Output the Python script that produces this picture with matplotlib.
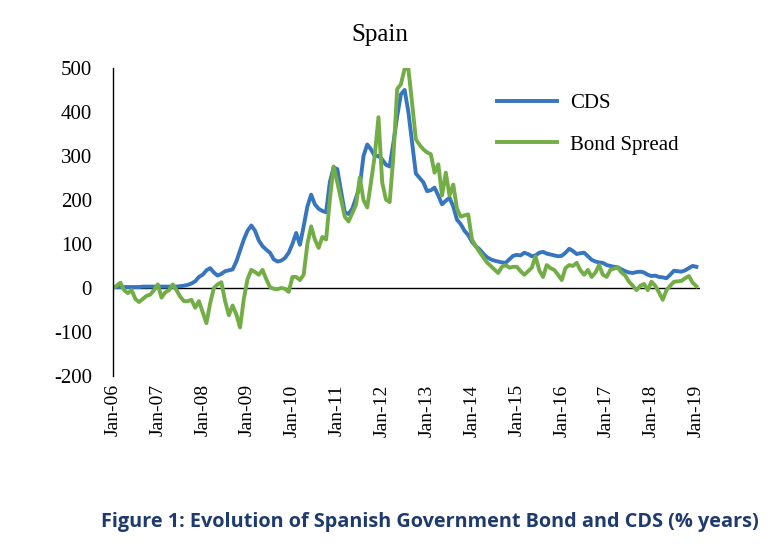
import numpy as np
import pandas as pd
import matplotlib
matplotlib.use("Agg")
import matplotlib.pyplot as plt

plt.rcParams["axes.unicode_minus"] = False

# Monthly observations, Jan-2006 .. Jan-2019 (basis points)
months = pd.date_range("2006-01-01", "2019-01-01", freq="MS")

cds = [2, 2, 2, 2, 2, 2, 2, 2, 3, 3, 3, 3,
       3, 3, 3, 3, 3, 3, 4, 5, 7, 10, 15, 25,
       30, 40, 45, 35, 28, 32, 38, 40, 42, 60, 85, 110,
       130, 142, 130, 108, 95, 87, 80, 65, 60, 62, 68, 80,
       100, 125, 98, 140, 185, 212, 190, 180, 175, 172, 240, 274,
       270, 220, 172, 168, 180, 205, 230, 300, 326, 315, 300, 300,
       292, 280, 276, 330, 390, 440, 450, 400, 330, 260, 250, 240,
       220, 222, 228, 210, 190, 198, 205, 185, 155, 145, 130, 120,
       105, 95, 88, 78, 70, 65, 62, 60, 58, 57, 65, 73,
       75, 74, 80, 77, 72, 74, 80, 82, 78, 76, 74, 72,
       73, 80, 89, 84, 77, 79, 80, 72, 64, 60, 58, 57,
       52, 50, 48, 47, 42, 38, 35, 34, 36, 37, 35, 30,
       27, 28, 25, 24, 22, 30, 39, 38, 37, 40, 45, 50,
       48]

bond_spread = [0, 5, 12, -5, -12, -5, -25, -32, -25, -18, -15, -5,
               8, -22, -10, -5, 8, -5, -20, -30, -30, -27, -45, -30,
               -55, -80, -35, 0, 8, 13, -30, -62, -40, -60, -90, -25,
               20, 41, 36, 30, 41, 20, 2, -2, -3, 0, -2, -9,
               25, 25, 18, 30, 100, 140, 110, 91, 116, 110, 200, 276,
               240, 201, 162, 151, 170, 189, 251, 200, 183, 240, 300, 388,
               240, 201, 195, 300, 452, 463, 498, 498, 420, 338, 325, 315,
               308, 304, 262, 281, 210, 262, 210, 235, 180, 162, 165, 167,
               110, 95, 82, 70, 58, 50, 42, 34, 48, 52, 46, 48,
               48, 38, 30, 38, 46, 72, 40, 25, 52, 45, 41, 30,
               18, 45, 52, 50, 57, 40, 30, 41, 25, 35, 52, 30,
               25, 41, 44, 46, 35, 28, 14, 5, -5, 5, 9, -5,
               14, 5, -10, -27, -5, 5, 14, 15, 16, 22, 27, 12,
               4]

tick_years = list(range(2006, 2020))
tick_labels = ["Jan-%02d" % (y % 100) for y in tick_years]

serif = "Liberation Serif"

fig = plt.figure(figsize=(7.84, 5.48), dpi=100)
ax = fig.add_axes([0.144, 0.314, 0.749, 0.562])

idx = np.arange(len(months))
ax.plot(idx, cds, color="#3775BE", lw=2.8, label="CDS")
ax.plot(idx, bond_spread, color="#72AD46", lw=2.8, label="Bond Spread")
ax.axhline(0, color="black", lw=1.0, zorder=0.5)

ax.set_xlim(0, 157)
ax.set_ylim(-200, 500)
ax.set_yticks(range(-200, 501, 100))
for lab in ax.get_yticklabels():
    lab.set_family(serif)
ax.tick_params(axis="y", length=0, pad=15, labelsize=15)

tick_pos = [(y - 2006) * 12 for y in tick_years]
ax.set_xticks(tick_pos)
ax.set_xticklabels(tick_labels, rotation=90, family=serif, fontsize=14)
ax.tick_params(axis="x", length=0, pad=6)

for s in ["top", "right", "bottom"]:
    ax.spines[s].set_visible(False)
ax.spines["left"].set_linewidth(1.0)

fig.text(0.485, 0.936, "Spain", family=serif, fontsize=18, ha="center", va="center")

leg = ax.legend(loc="upper left", bbox_to_anchor=(0.634, 0.829),
                bbox_transform=fig.transFigure, frameon=False,
                prop={"family": serif, "size": 15}, borderpad=0, borderaxespad=0,
                handlelength=2.9, handletextpad=0.6, labelspacing=1.05)

fig.text(0.548, 0.047, "Figure 1: Evolution of Spanish Government Bond and CDS (% years)",
         ha="center", va="center", fontsize=14.3, fontweight="bold",
         family="Open Sans", color="#1F3A6E")

fig.savefig("out.png", dpi=100)
